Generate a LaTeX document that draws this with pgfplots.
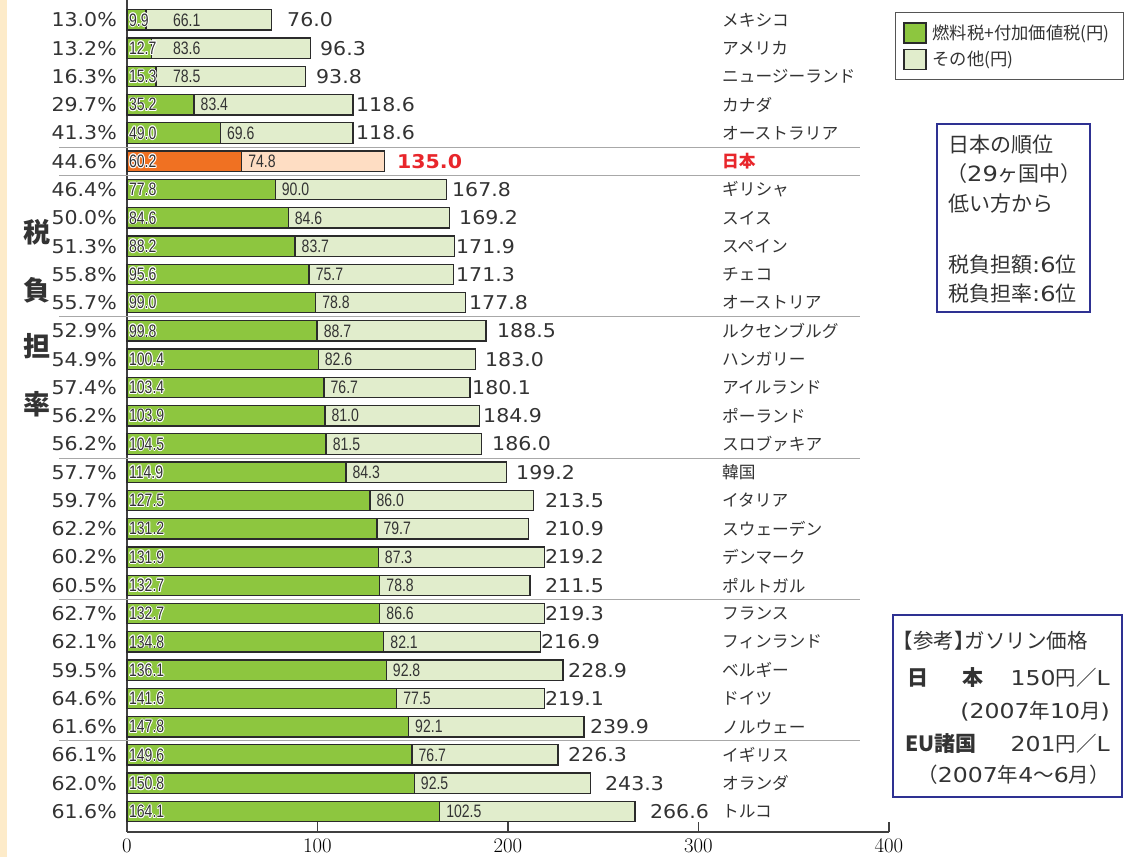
\documentclass[border=0pt]{standalone}
\usepackage{pgfplots}
\pgfplotsset{compat=1.18}
\usepackage{pgfplotstable}
\usepackage{fontspec}
\setmainfont{DejaVu Sans}
\newfontfamily\jp{Noto Sans CJK JP}
\newfontfamily\jph{Noto Sans CJK JP}[RawFeature=+halt]
\newfontfamily\numf{DejaVu Sans}[FakeStretch=1.08]
\newfontfamily\innf{Liberation Sans}[FakeStretch=0.78]
\newfontfamily\boxnum{DejaVu Sans}[FakeStretch=1.15]
\newcommand\fs[1]{\fontsize{#1}{#1}\selectfont}
\definecolor{tgreen}{HTML}{8DC63F}
\definecolor{tlight}{HTML}{E1EDCC}
\definecolor{jorange}{HTML}{F07122}
\definecolor{jpeach}{HTML}{FEDDC3}
\definecolor{bardark}{HTML}{2B2B2B}
\definecolor{axisc}{HTML}{404040}
\definecolor{sepgray}{HTML}{A8A8A8}
\definecolor{txt}{HTML}{333333}
\definecolor{jred}{HTML}{E8262B}
\definecolor{boxblue}{HTML}{2E3192}
\definecolor{strip}{HTML}{FDEBC9}
\definecolor{legc}{HTML}{555555}
\newcommand\halo[1]{{\color{white}%
\rlap{\kern-0.9pt#1}\rlap{\kern0.9pt#1}\rlap{\raisebox{0.9pt}{#1}}\rlap{\raisebox{-0.9pt}{#1}}%
\rlap{\kern-0.65pt\raisebox{0.65pt}{#1}}\rlap{\kern0.65pt\raisebox{0.65pt}{#1}}%
\rlap{\kern-0.65pt\raisebox{-0.65pt}{#1}}\rlap{\kern0.65pt\raisebox{-0.65pt}{#1}}}#1}

\pgfplotstableread{
y pct tax other total lx name
28 13.0 9.9 66.1 76.0 84.0 メキシコ
27 13.2 12.7 83.6 96.3 101.3 アメリカ
26 16.3 15.3 78.5 93.8 99.2 ニュージーランド
25 29.7 35.2 83.4 118.6 120.2 カナダ
24 41.3 49.0 69.6 118.6 120.2 オーストラリア
22 46.4 77.8 90.0 167.8 170.6 ギリシャ
21 50.0 84.6 84.6 169.2 174.3 スイス
20 51.3 88.2 83.7 171.9 172.7 スペイン
19 55.8 95.6 75.7 171.3 172.7 チェコ
18 55.7 99.0 78.8 177.8 179.5 オーストリア
17 52.9 99.8 88.7 188.5 194.2 ルクセンブルグ
16 54.9 100.4 82.6 183.0 187.9 ハンガリー
15 57.4 103.4 76.7 180.1 181.1 アイルランド
14 56.2 103.9 81.0 184.9 186.9 ポーランド
13 56.2 104.5 81.5 186.0 191.6 スロブァキア
12 57.7 114.9 84.3 199.2 204.2 韓国
11 59.7 127.5 86.0 213.5 219.4 イタリア
10 62.2 131.2 79.7 210.9 219.4 スウェーデン
9 60.2 131.9 87.3 219.2 219.4 デンマーク
8 60.5 132.7 78.8 211.5 219.4 ポルトガル
7 62.7 132.7 86.6 219.3 219.4 フランス
6 62.1 134.8 82.1 216.9 217.3 フィンランド
5 59.5 136.1 92.8 228.9 231.5 ベルギー
4 64.6 141.6 77.5 219.1 219.4 ドイツ
3 61.6 147.8 92.1 239.9 243.0 ノルウェー
2 66.1 149.6 76.7 226.3 231.5 イギリス
1 62.0 150.8 92.5 243.3 250.9 オランダ
0 61.6 164.1 102.5 266.6 274.5 トルコ
}\data

\pgfplotstableread{
y pct tax other total lx name
23 44.6 60.2 74.8 135.0 141.7 日本
}\jpn

\pgfplotsset{
  legimg/.style={legend image code/.code={\draw[##1] (0pt,-10pt) rectangle (22pt,10pt);}},
  barstyle/.style={xbar, bar width=0.72, bar shift=0pt, draw=bardark, line width=1.3pt, forget plot},
  lbl/.style={only marks, mark=none, forget plot, point meta=explicit symbolic,
     nodes near coords style={anchor=west, inner sep=0pt}},
}

\begin{document}
\begin{tikzpicture}
\path[use as bounding box] (0,0) rectangle (1144pt,857pt);
\fill[strip] (0,0) rectangle (7pt,857pt);
\begin{axis}[
  at={(127pt,25pt)}, anchor=south west,
  scale only axis, width=762pt, height=832pt,
  xmin=0, xmax=400, ymin=-0.725, ymax=28.705,
  axis x line*=bottom, axis y line*=left,
  axis line style={draw=axisc, line width=1.5pt},
  xtick={0,100,200,300,400}, ytick=\empty,
  tick align=inside, major tick length=10pt,
  tick style={draw=axisc, line width=1.3pt},
  xticklabel style={font=\fs{20}, text=black, yshift=-4pt},
  clip=false,
  legend style={at={(1.0079,0.9856)}, anchor=north west, draw=legc, line width=0.8pt,
    fill=white, inner xsep=8pt, inner ysep=10pt, row sep=5pt,
    text=txt, nodes={inner xsep=6pt, inner ysep=0pt}},
  legend cell align=left,
]
\addlegendimage{legimg, fill=tgreen, draw=bardark, line width=1.2pt}
\addlegendentry{\jp\fs{17.3}燃料税+付加価値税(円)}
\addlegendimage{legimg, fill=tlight, draw=bardark, line width=1.2pt}
\addlegendentry{\jp\fs{17.3}その他(円)}

% separators
\draw[sepgray, line width=1.2pt] (axis cs:-35.7,23.5) -- (axis cs:384.8,23.5);
\draw[sepgray, line width=1.2pt] (axis cs:-35.7,22.5) -- (axis cs:384.8,22.5);
\draw[sepgray, line width=1.2pt] (axis cs:-35.7,17.5) -- (axis cs:384.8,17.5);
\draw[sepgray, line width=1.2pt] (axis cs:-35.7,12.5) -- (axis cs:384.8,12.5);
\draw[sepgray, line width=1.2pt] (axis cs:-35.7,7.5) -- (axis cs:384.8,7.5);
\draw[sepgray, line width=1.2pt] (axis cs:-35.7,2.5) -- (axis cs:384.8,2.5);

% bars
\addplot[barstyle, fill=tlight] table[x=total, y=y] {\data};
\addplot[barstyle, fill=tgreen] table[x=tax, y=y] {\data};
\addplot[barstyle, fill=jpeach] table[x=total, y=y] {\jpn};
\addplot[barstyle, fill=jorange] table[x=tax, y=y] {\jpn};

% inner labels
\addplot[lbl, nodes near coords={\halo{\pgfplotspointmeta}},
  nodes near coords style={font=\innf\fs{18}, text=txt}]
  table[x expr=1.0, y=y, meta=tax] {\data};
\addplot[lbl, nodes near coords={\halo{\pgfplotspointmeta}},
  nodes near coords style={font=\innf\fs{18}, text=txt}]
  table[x expr=1.0, y=y, meta=tax] {\jpn};
\addplot[lbl, nodes near coords={\pgfplotspointmeta},
  nodes near coords style={font=\innf\fs{18}, text=txt}]
  table[x expr={max(\thisrow{tax}+3.4,24.1)}, y=y, meta=other] {\data};
\addplot[lbl, nodes near coords={\pgfplotspointmeta},
  nodes near coords style={font=\innf\fs{18}, text=txt}]
  table[x expr={max(\thisrow{tax}+3.4,24.1)}, y=y, meta=other] {\jpn};

% percent labels
\addplot[lbl, nodes near coords={\pgfplotspointmeta\%},
  nodes near coords style={anchor=east, font=\numf\fs{19}, text=txt}]
  table[x expr=-5.25, y=y, meta=pct] {\data};
\addplot[lbl, nodes near coords={\pgfplotspointmeta\%},
  nodes near coords style={anchor=east, font=\numf\fs{19}, text=txt}]
  table[x expr=-5.25, y=y, meta=pct] {\jpn};

% totals
\addplot[lbl, nodes near coords={\pgfplotspointmeta},
  nodes near coords style={font=\numf\fs{19}, text=txt}]
  table[x=lx, y=y, meta=total] {\data};
\addplot[lbl, nodes near coords={\pgfplotspointmeta},
  nodes near coords style={font=\numf\bfseries\fs{19}, text=jred}]
  table[x=lx, y=y, meta=total] {\jpn};

% country names
\addplot[lbl, nodes near coords={\pgfplotspointmeta},
  nodes near coords style={font=\jp\fs{16.7}, text=txt}]
  table[x expr=312.3, y=y, meta=name] {\data};
\addplot[lbl, nodes near coords={\pgfplotspointmeta},
  nodes near coords style={font=\jp\bfseries\fs{16.7}, text=jred}]
  table[x expr=312.3, y=y, meta=name] {\jpn};
\end{axis}

% vertical title
\node[font=\jp\bfseries\fs{27}, text=txt] at (37pt,625pt) {税};
\node[font=\jp\bfseries\fs{27}, text=txt] at (37pt,567pt) {負};
\node[font=\jp\bfseries\fs{27}, text=txt] at (37pt,511pt) {担};
\node[font=\jp\bfseries\fs{27}, text=txt] at (37pt,453pt) {率};

% Japan ranking box
\draw[boxblue, line width=2.5pt, fill=white] (937pt,545pt) rectangle (1090pt,733pt);
\begin{scope}[every node/.style={anchor=west, inner sep=0pt, text=txt, font=\jp\fs{21}}]
\node at (948pt,712pt) {日本の順位};
\node at (946pt,683pt) {（{\boxnum 29}ヶ国中）};
\node at (948pt,653pt) {低い方から};
\node at (948pt,592pt) {税負担額{\boxnum :6}位};
\node at (948pt,563pt) {税負担率{\boxnum :6}位};
\end{scope}

% Reference box
\draw[boxblue, line width=2.5pt, fill=white] (893pt,60pt) rectangle (1122pt,242pt);
\begin{scope}[every node/.style={inner sep=0pt, text=txt, font=\jp\fs{20.5}}]
\node[anchor=west] at (903pt,216pt) {{\jph 【}参考{\jph 】}ガソリン価格};
\node[anchor=west, font=\jp\bfseries\fs{21}] at (907pt,179pt) {日};
\node[anchor=west, font=\jp\bfseries\fs{21}] at (962pt,179pt) {本};
\node[anchor=east] at (1110pt,179pt) {{\boxnum 150}円／{\boxnum L}};
\node[anchor=east] at (1110pt,146pt) {{\boxnum (2007}年{\boxnum 10}月{\boxnum )}};
\node[anchor=west, font=\jp\bfseries\fs{21}] at (905pt,113pt) {EU諸国};
\node[anchor=east] at (1110pt,113pt) {{\boxnum 201}円／{\boxnum L}};
\node[anchor=east] at (1110pt,82pt) {（{\boxnum 2007}年{\boxnum 4}～{\boxnum 6}月）};
\end{scope}
\end{tikzpicture}
\end{document}
